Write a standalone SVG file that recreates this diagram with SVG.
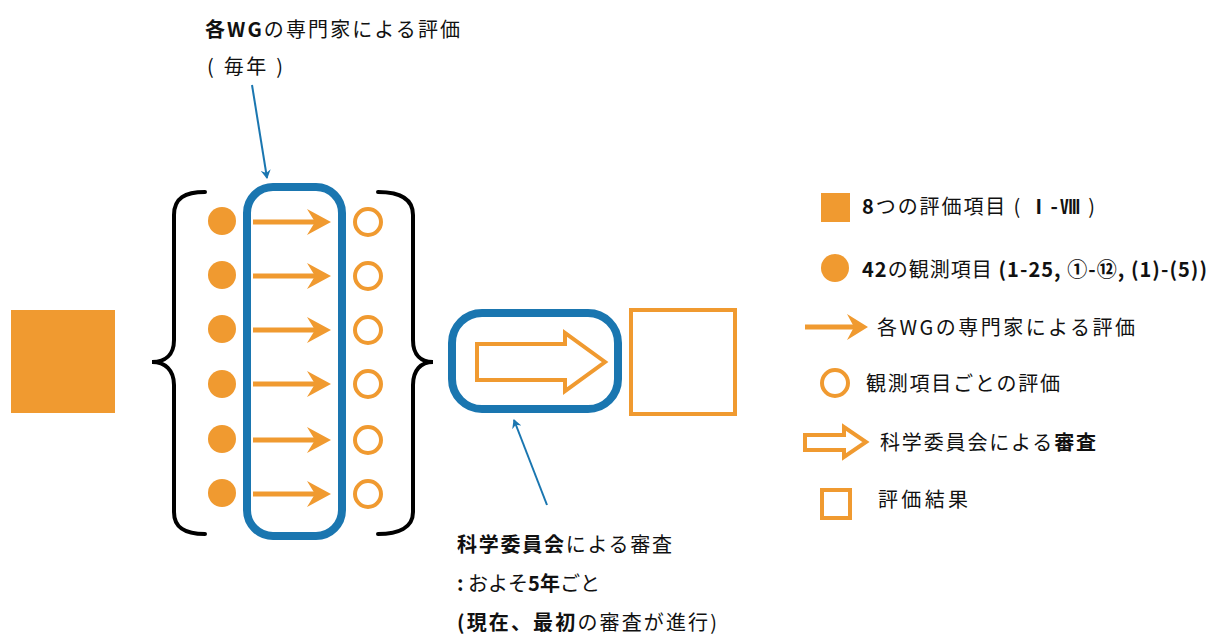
<svg xmlns="http://www.w3.org/2000/svg" width="1211" height="637" viewBox="0 0 1211 637">
<style>
.t{font-family:"Noto Sans CJK JP","Noto Sans",sans-serif;font-size:20px;fill:#111}
.b{font-weight:bold}
.dot{fill:#F09A30}
.ring{fill:#fff;stroke:#F09A30;stroke-width:4}
.arr{stroke:#F09A30;stroke-width:5;fill:none}
.ah{fill:#F09A30}
.blk{fill:#fff;stroke:#F09A30;stroke-width:4;stroke-linejoin:miter}
.blue{fill:none;stroke:#1A76B0;stroke-width:8}
.brace{fill:none;stroke:#000;stroke-width:4;stroke-linecap:round}
.lead{stroke:#1A76B0;stroke-width:2;fill:none}
</style>
<defs>
<marker id="bh" markerWidth="10" markerHeight="10" refX="8" refY="5" orient="auto" markerUnits="userSpaceOnUse">
<path d="M0,0 L9,5 L0,10 L3,5 Z" fill="#1A76B0"/>
</marker>
<g id="oarrow">
<line x1="0" y1="0" x2="70" y2="0" class="arr"/>
<path d="M54,-13 L78,0 L54,13 L62,0 Z" class="ah"/>
</g>
</defs>

<g id="category-square"><rect x="11" y="310" width="104" height="103" fill="#F09A30"/></g>

<g id="left-brace"><path class="brace" d="M205,192 C185,192 174,198 174,215 L174,340 C174,355 165,362 152,362 C165,362 174,370 174,385 L174,512 C174,528 185,534 205,534"/></g>
<g id="right-brace"><path class="brace" d="M378,192 C398,192 413,198 413,215 L413,340 C413,355 421,362 433,362 C421,362 413,370 413,385 L413,512 C413,528 398,534 378,534"/></g>

<g id="wg-box"><rect class="blue" x="247" y="187" width="95" height="349" rx="26"/></g>

<g id="items">
<circle class="dot" cx="222" cy="221" r="14"/><circle class="dot" cx="222" cy="275" r="14"/><circle class="dot" cx="222" cy="329" r="14"/>
<circle class="dot" cx="222" cy="384" r="14"/><circle class="dot" cx="222" cy="439" r="14"/><circle class="dot" cx="222" cy="493" r="14"/>
</g>
<g id="wg-arrows">
<use href="#oarrow" x="253" y="222"/><use href="#oarrow" x="253" y="276"/><use href="#oarrow" x="253" y="330"/>
<use href="#oarrow" x="253" y="384"/><use href="#oarrow" x="253" y="440"/><use href="#oarrow" x="253" y="494"/>
</g>
<g id="item-evals">
<circle class="ring" cx="368" cy="222" r="13"/><circle class="ring" cx="368" cy="276" r="13"/><circle class="ring" cx="368" cy="330" r="13"/>
<circle class="ring" cx="368" cy="384" r="13"/><circle class="ring" cx="368" cy="440" r="13"/><circle class="ring" cx="368" cy="494" r="13"/>
</g>

<g id="committee-box"><rect class="blue" x="452" y="313" width="166" height="96" rx="30"/>
<path class="blk" d="M477,344 L565,344 L565,333 L605,362 L565,391 L565,380 L477,380 Z"/></g>

<g id="result-square"><rect x="631" y="310" width="104" height="104" fill="#fff" stroke="#F09A30" stroke-width="4"/></g>

<g id="connectors">
<line class="lead" x1="252" y1="85" x2="267" y2="178" marker-end="url(#bh)"/>
<line class="lead" x1="547" y1="505" x2="514" y2="420" marker-end="url(#bh)"/>
</g>

<g id="top-label">
<text class="t" x="205" y="37" textLength="255" lengthAdjust="spacing"><tspan class="b">各WG</tspan>の専門家による評価</text>
<text class="t" x="207" y="74" textLength="76" lengthAdjust="spacing">( 毎年 )</text>
</g>
<g id="bottom-label">
<text class="t" x="457" y="552" textLength="215" lengthAdjust="spacing"><tspan class="b">科学委員会</tspan>による審査</text>
<text class="t" x="457" y="591" textLength="143" lengthAdjust="spacing"><tspan class="b">:</tspan> およそ<tspan class="b">5年</tspan>ごと</text>
<text class="t" x="457" y="630" textLength="260" lengthAdjust="spacing"><tspan class="b">(現在、最初</tspan>の審査が進行)</text>
</g>

<g id="legend">
<rect x="821" y="193" width="29" height="29" fill="#F09A30"/>
<text class="t" x="862" y="214" textLength="233" lengthAdjust="spacing"><tspan class="b">8</tspan>つの評価項目 ( <tspan class="b">Ⅰ-Ⅷ</tspan> )</text>
<circle class="dot" cx="835" cy="268" r="14"/>
<text class="t b" x="862" y="277" textLength="345" lengthAdjust="spacing">42<tspan font-weight="normal">の観測項目</tspan> (1-25, ①-⑫, (1)-(5))</text>
<line x1="805" y1="327" x2="858" y2="327" class="arr"/>
<path d="M847,314 L868,327 L847,340 L854,327 Z" class="ah"/>
<text class="t" x="877" y="335" textLength="258" lengthAdjust="spacing">各WGの専門家による評価</text>
<circle class="ring" cx="835" cy="383" r="13"/>
<text class="t" x="866" y="391" textLength="194" lengthAdjust="spacing">観測項目ごとの評価</text>
<path class="blk" d="M805,435 L844,435 L844,427 L866,442 L844,457 L844,450 L805,450 Z"/>
<text class="t" x="880" y="450" textLength="216" lengthAdjust="spacing">科学委員会による<tspan class="b">審査</tspan></text>
<rect x="822" y="490" width="28" height="28" fill="#fff" stroke="#F09A30" stroke-width="4"/>
<text class="t" x="878" y="507" textLength="90" lengthAdjust="spacing">評価結果</text>
</g>
</svg>
